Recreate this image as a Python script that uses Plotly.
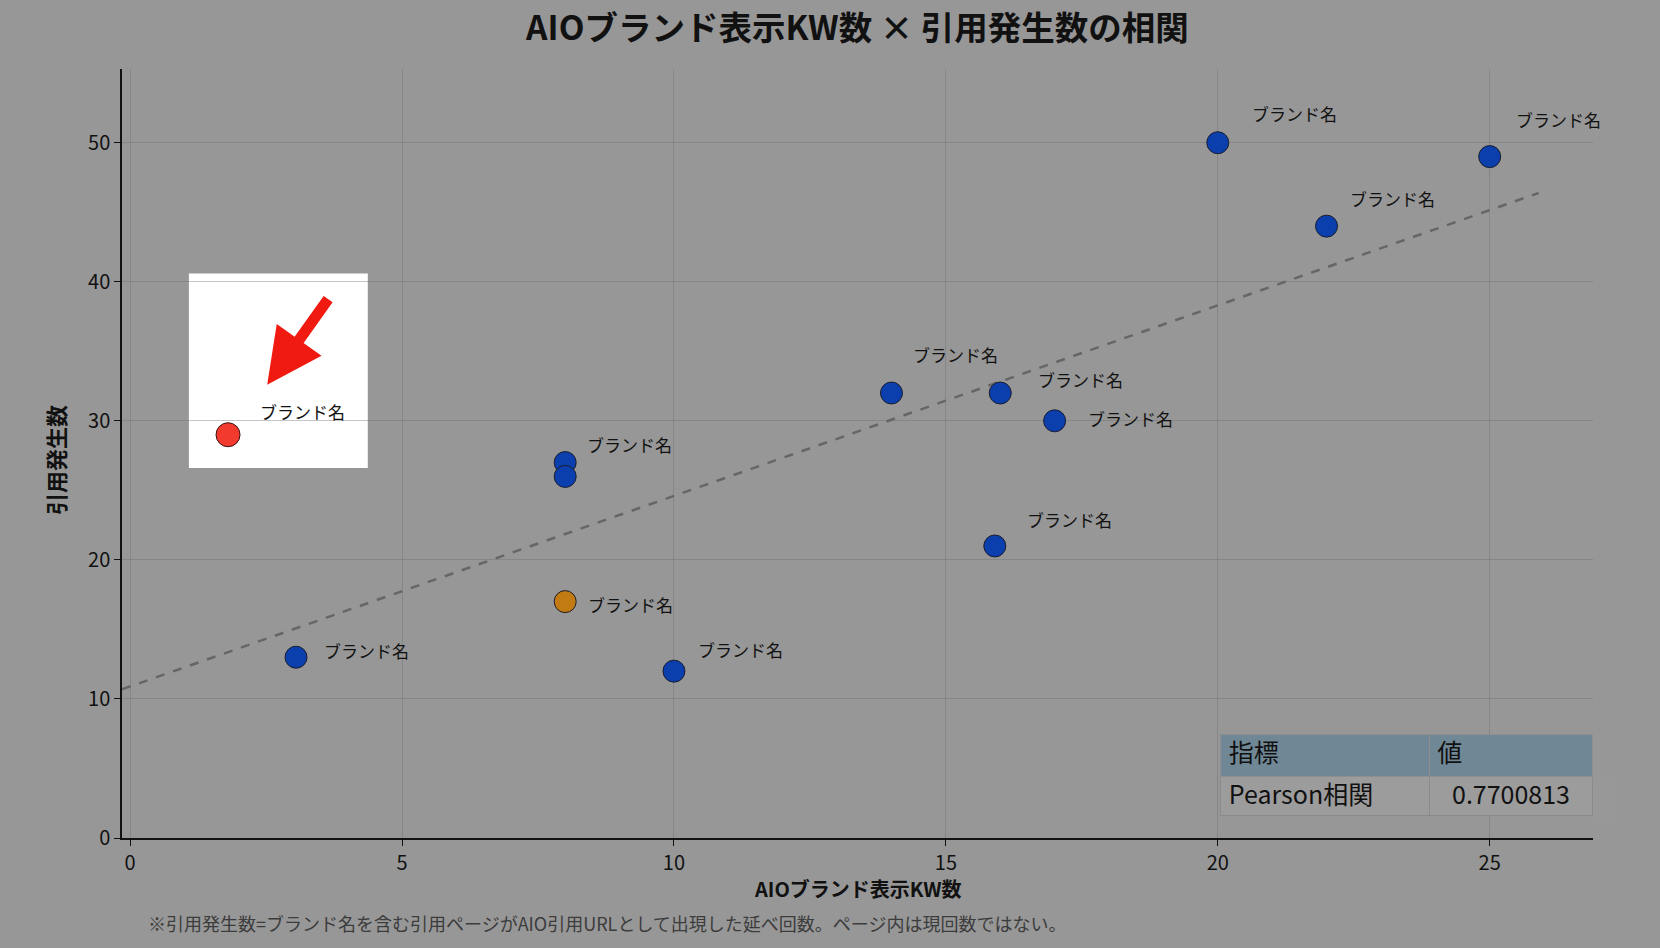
import plotly.graph_objects as go

# data
kw_counts = [20, 25, 22, 14, 16, 17, 15.9, 10, 3.05, 8, 8, 8]
citation_counts = [50, 49, 44, 32, 32, 30, 21, 12, 13, 27, 26, 17]
brand_labels = ["ブランド名"] * 9 + ["ブランド名", "", "ブランド名"]
point_groups = ["base"] * 11 + ["focus"]

highlight_kw = [1.8]
highlight_citations = [29]
highlight_labels = ["ブランド名"]

trend_intercept = 10.9
trend_slope = 1.37
trend_x = [-0.15, 25.9]

table_header = ["指標", "値"]
table_metric = ["Pearson相関"]
table_value = ["0.7700813"]

TITLE = "AIOブランド表示KW数 × 引用発生数の相関"
X_TITLE = "AIOブランド表示KW数"
Y_TITLE = "引用発生数"
NOTE = "※引用発生数=ブランド名を含む引用ページがAIO引用URLとして出現した延べ回数。ページ内は現回数ではない。"

FONT = "Noto Sans CJK JP"
BG = "#979797"
GROUP_COLORS = {"base": "#0b3fae", "focus": "#c27a12"}

# label offsets in px (right, up) per point, matching the reference layout
label_offsets = [
    (32, 29), (24, 37), (21, 28), (20, 39), (36, 14), (31, 2),
    (30, 26), (22, 22), (26, 7), (20, 18), (0, 0), (21, -3),
]

fig = go.Figure()

# white spotlight box behind the highlighted point
fig.add_shape(
    type="rect", xref="x", yref="y",
    x0=1.08, x1=4.37, y0=26.6, y1=40.6,
    fillcolor="white", line=dict(width=0), layer="below",
)

fig.add_trace(go.Scatter(
    x=trend_x,
    y=[trend_intercept + trend_slope * v for v in trend_x],
    mode="lines",
    line=dict(color="#666666", width=2.5, dash="dash"),
    hoverinfo="skip",
    showlegend=False,
))

fig.add_trace(go.Scatter(
    x=kw_counts,
    y=citation_counts,
    mode="markers",
    marker=dict(
        size=22,
        color=[GROUP_COLORS[g] for g in point_groups],
        line=dict(color="#1c1c2c", width=1),
    ),
    text=brand_labels,
    showlegend=False,
))

fig.add_trace(go.Scatter(
    x=highlight_kw,
    y=highlight_citations,
    mode="markers",
    marker=dict(size=24, color="#f23a2e", line=dict(color="#3a1010", width=1)),
    showlegend=False,
))

for x, y, label, (dx, dy) in zip(kw_counts, citation_counts, brand_labels, label_offsets):
    if not label:
        continue
    fig.add_annotation(
        x=x, y=y, text=label, showarrow=False,
        xanchor="left", yanchor="middle", xshift=dx, yshift=dy,
        font=dict(family=FONT, size=17, color="#111111"),
    )

for x, y, label in zip(highlight_kw, highlight_citations, highlight_labels):
    fig.add_annotation(
        x=x, y=y, text=label, showarrow=False,
        xanchor="left", yanchor="middle", xshift=30, yshift=23,
        font=dict(family=FONT, size=17, color="#111111"),
    )
    fig.add_annotation(
        x=x + 0.72, y=y + 3.6, text="", showarrow=True,
        ax=62, ay=-87, axref="pixel", ayref="pixel",
        arrowhead=2, arrowsize=1.0, arrowwidth=11, arrowcolor="#f01a10",
    )

fig.add_trace(go.Table(
    domain=dict(x=[0.747, 1.0], y=[0.02, 0.134]),
    columnwidth=[210, 165],
    header=dict(
        values=table_header,
        fill_color="#708896",
        line_color="#8f8f8f",
        align="left",
        height=42,
        font=dict(family=FONT, size=25, color="#111111"),
    ),
    cells=dict(
        values=[table_metric, table_value],
        fill_color="#9c9c9c",
        line_color="#8a8a8a",
        align=["left", "center"],
        height=39,
        font=dict(family=FONT, size=25, color="#111111"),
    ),
))

fig.add_annotation(
    xref="paper", yref="paper", x=0.5, y=-0.066, text=f"<b>{X_TITLE}</b>",
    showarrow=False, xanchor="center", yanchor="middle",
    font=dict(family=FONT, size=20, color="#111111"),
)
fig.add_annotation(
    xref="paper", yref="paper", x=-0.0455, y=0.4915, text=f"<b>{Y_TITLE}</b>",
    showarrow=False, textangle=-90, xanchor="center", yanchor="middle",
    font=dict(family=FONT, size=22, color="#111111"),
)
fig.add_annotation(
    xref="paper", yref="paper", x=0.0163, y=-0.1105, text=NOTE,
    showarrow=False, xanchor="left", yanchor="middle",
    font=dict(family=FONT, size=18, color="#3c3c3c"),
)

fig.update_layout(
    width=1660,
    height=948,
    margin=dict(l=122, r=67, t=69, b=110),
    paper_bgcolor=BG,
    plot_bgcolor=BG,
    font=dict(family=FONT, color="#111111"),
    title=dict(
        text=f"<b>{TITLE}</b>", x=0.5, xref="paper", y=0.97, yanchor="middle",
        font=dict(family=FONT, size=33.5, color="#111111"),
    ),
)
fig.update_xaxes(
    range=[-0.15, 26.9],
    tickvals=[0, 5, 10, 15, 20, 25],
    showgrid=True, gridcolor="rgba(110,110,110,0.4)", gridwidth=1,
    zeroline=False,
    showline=True, linecolor="#111111", linewidth=2,
    ticks="outside", ticklen=6, tickcolor="#111111",
    tickfont=dict(family=FONT, size=20, color="#111111"),
)
fig.update_yaxes(
    range=[0, 55.3],
    tickvals=[0, 10, 20, 30, 40, 50],
    showgrid=True, gridcolor="rgba(110,110,110,0.4)", gridwidth=1,
    zeroline=False,
    showline=True, linecolor="#111111", linewidth=1.5,
    ticks="outside", ticklen=6, tickcolor="#111111",
    tickfont=dict(family=FONT, size=20, color="#111111"),
)

fig.write_html(
    "out.html",
    config={"displayModeBar": False},
    post_script="document.body.style.margin='0';document.body.style.background='" + BG + "';",
)
